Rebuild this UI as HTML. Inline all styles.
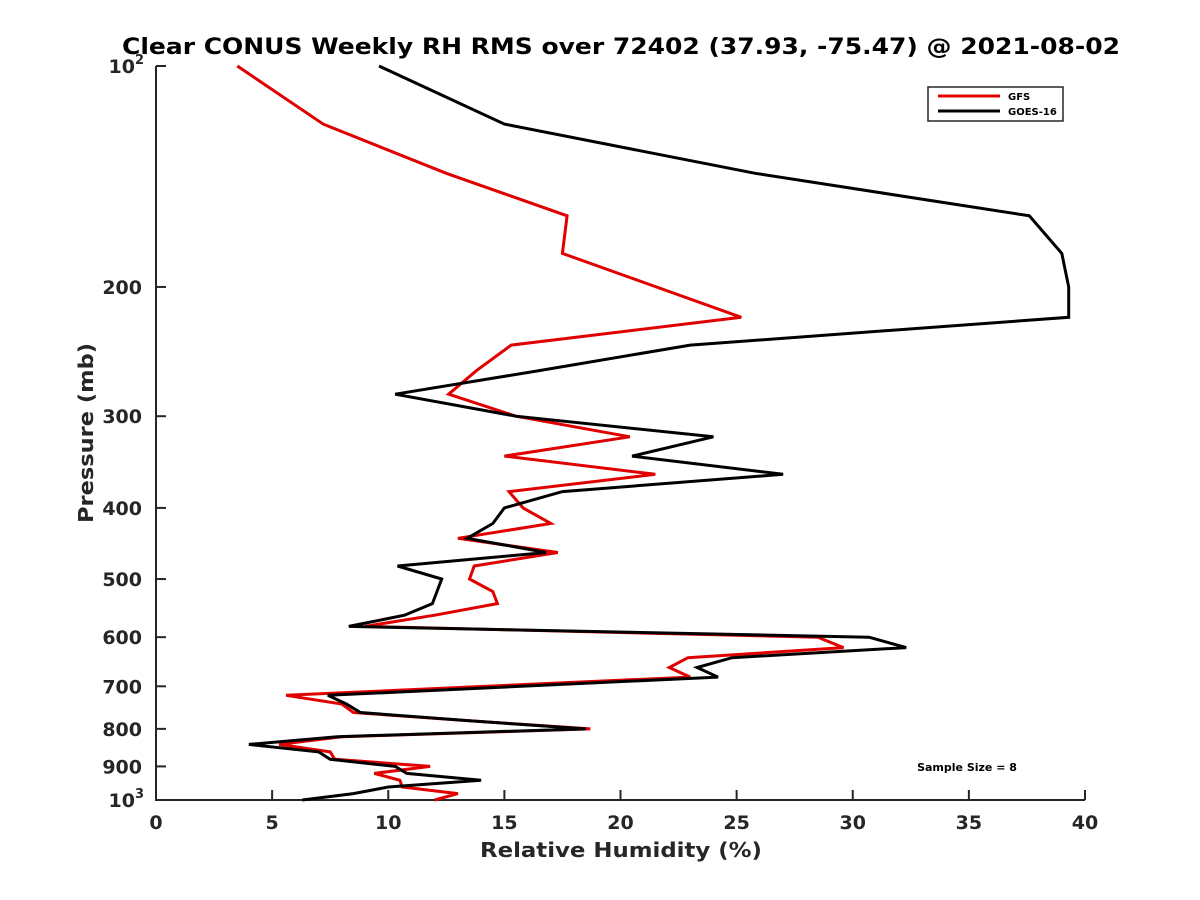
<!DOCTYPE html>
<html><head><meta charset="utf-8"><style>
body{margin:0;background:#fff;}
svg{display:block;font-family:"DejaVu Sans","Liberation Sans",sans-serif;}
</style></head><body>
<svg id="chart" width="1200" height="900" viewBox="0 0 1200 900">
<rect width="1200" height="900" fill="#fff"/>
<text x="122" y="54" font-size="22" font-weight="bold" textLength="998" lengthAdjust="spacingAndGlyphs" fill="#000">Clear CONUS Weekly RH RMS over 72402 (37.93, -75.47) @ 2021-08-02</text>
<g id="axes"></g>
<g id="series"></g>
<text x="480" y="857" font-size="20" font-weight="bold" textLength="282" lengthAdjust="spacingAndGlyphs" fill="#262626">Relative Humidity (%)</text>
<text transform="translate(93,523) rotate(-90)" font-size="20" font-weight="bold" textLength="180" lengthAdjust="spacingAndGlyphs" fill="#262626">Pressure (mb)</text>
<text x="967" y="771" font-size="11" font-weight="bold" text-anchor="middle" fill="#000">Sample Size = 8</text>
<g>
<rect x="928" y="87" width="135" height="34" fill="#fff" stroke="#262626" stroke-width="1.5"/>
<line x1="938" y1="96" x2="1000" y2="96" stroke="#e00000" stroke-width="3"/>
<text x="1008" y="100" font-size="10" font-weight="bold">GFS</text>
<line x1="938" y1="111" x2="1000" y2="111" stroke="#000" stroke-width="3"/>
<text x="1008" y="115" font-size="10" font-weight="bold">GOES-16</text>
</g>
</svg>
<script>
const pressures=[100,120,140,160,180,220,240,260,280,300,320,340,360,380,400,420,440,460,480,500,520,540,560,580,600,620,640,660,680,720,740,760,780,800,820,840,860,880,900,920,940,960,980,1000];
const gfsValues=[3.5,7.2,12.5,17.7,17.5,25.2,15.3,13.8,12.6,15.5,20.4,15.0,21.5,15.2,15.8,17.0,13.0,17.3,13.7,13.5,14.5,14.7,12.0,9.0,28.5,29.6,22.9,22.1,23.0,5.6,8.0,8.5,13.5,18.7,8.0,5.3,7.5,7.7,11.8,9.4,10.5,10.6,13.0,12.0];
const goesValues=[9.6,15.0,25.8,37.6,39.0,39.3,23.0,16.5,10.3,15.5,24.0,20.5,27.0,17.5,15.0,14.5,13.4,16.8,10.4,12.3,12.1,11.9,10.7,8.3,30.7,32.3,24.8,23.3,24.2,7.4,8.2,8.8,13.5,18.5,7.8,4.0,7.0,7.5,10.3,10.8,14.0,10.0,8.5,6.3];
const goesExtra={p:200,v:39.3};
const xTicks=[0,5,10,15,20,25,30,35,40];
const yTickLabels=[200,300,400,500,600,700,800,900];
const X0=156,X1=1085,Y0=66,Y1=800;
const xs=v=>X0+(v-0)/(40-0)*(X1-X0);
const ys=p=>Y0+(Math.log10(p)-2)*(Y1-Y0);
const NS="http://www.w3.org/2000/svg";
const axes=document.getElementById('axes'),ser=document.getElementById('series');
function mk(tag,attrs,parent){const e=document.createElementNS(NS,tag);for(const k in attrs)e.setAttribute(k,attrs[k]);parent.appendChild(e);return e;}
const ax=mk('path',{d:`M${X0},${Y0}V${Y1}H${X1}`,fill:'none',stroke:'#262626','stroke-width':2},axes);


xTicks.forEach(t=>{
  const l=mk('line',{x1:xs(t),x2:xs(t),y1:Y1,y2:Y1-10,stroke:'#262626','stroke-width':2},axes);
  
  
  const tx=mk('text',{x:xs(t),y:Y1+29,'font-size':19,'font-weight':'bold','text-anchor':'middle',fill:'#262626'},axes);
  tx.textContent=t;
  
  
});
[100,1000].concat(yTickLabels).forEach(p=>{
  const l=mk('line',{x1:X0,x2:X0+10,y1:ys(p),y2:ys(p),stroke:'#262626','stroke-width':2},axes);
  
  
});
yTickLabels.forEach(p=>{
  const tx=mk('text',{x:X0-14,y:ys(p)+7,'font-size':19,'font-weight':'bold','text-anchor':'end',fill:'#262626'},axes);
  tx.textContent=p;
  
  
});
[[100,'2'],[1000,'3']].forEach(([p,e])=>{
  const tx=mk('text',{x:X0-12,y:ys(p)+7,'font-size':19,'font-weight':'bold','text-anchor':'end',fill:'#262626'},axes);
  tx.innerHTML='10<tspan dy="-9" font-size="13">'+e+'</tspan>';
  
  
});
function line(vals,color,name,extra){
  let pts=vals.map((v,i)=>[pressures[i],v]);
  if(extra){pts.push([extra.p,extra.v]);pts.sort((a,b)=>a[0]-b[0]);}
  const d=pts.map((q,i)=>(i?'L':'M')+xs(q[1]).toFixed(1)+','+ys(q[0]).toFixed(1)).join('');
  const p=mk('path',{d,fill:'none',stroke:color,'stroke-width':3,'stroke-linejoin':'miter'},ser);
  
  
}
line(gfsValues,'#e00000','gfs-line');
line(goesValues,'#000','goes16-line',goesExtra);
</script>
</body></html>
